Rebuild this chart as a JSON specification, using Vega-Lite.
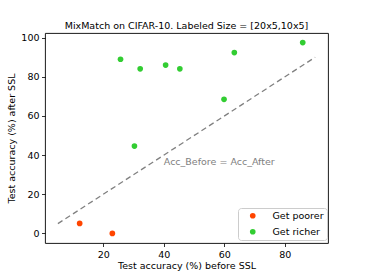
{
  "$schema": "https://vega.github.io/schema/vega-lite/v6.json",
  "autosize": "none",
  "width": 283,
  "height": 210,
  "padding": {"left": 45, "top": 33, "right": 37, "bottom": 31},
  "background": "white",
  "title": {"text": "MixMatch on CIFAR-10. Labeled Size = [20x5,10x5]", "fontSize": 9.5, "font": "DejaVu Sans", "fontWeight": "normal", "color": "black", "offset": 2},
  "config": {
    "font": "DejaVu Sans",
    "view": {"stroke": "black", "strokeWidth": 0.9},
    "axis": {"grid": false, "domain": false, "tickColor": "black", "tickSize": 3.5, "tickWidth": 0.8, "labelColor": "black", "labelFontSize": 9.5, "labelFont": "DejaVu Sans", "titleFont": "DejaVu Sans", "titleFontSize": 9.5, "titleFontWeight": "normal", "titleColor": "black", "labelPadding": 2.5}
  },
  "datasets": {
    "pts": [
      {"before": 25.7, "after": 89.0, "group": "Get richer"},
      {"before": 32.2, "after": 84.1, "group": "Get richer"},
      {"before": 40.6, "after": 86.0, "group": "Get richer"},
      {"before": 45.3, "after": 84.1, "group": "Get richer"},
      {"before": 59.9, "after": 68.5, "group": "Get richer"},
      {"before": 63.3, "after": 92.4, "group": "Get richer"},
      {"before": 85.9, "after": 97.5, "group": "Get richer"},
      {"before": 30.3, "after": 44.6, "group": "Get richer"},
      {"before": 12.2, "after": 5.1, "group": "Get poorer"},
      {"before": 23.0, "after": 0.0, "group": "Get poorer"}
    ],
    "diag": [
      {"before": 5, "after": 5},
      {"before": 90, "after": 90}
    ],
    "note": [
      {"before": 40, "after": 36.5, "label": "Acc_Before = Acc_After"}
    ]
  },
  "layer": [
    {
      "data": {"name": "diag"},
      "mark": {"type": "line", "color": "gray", "strokeDash": [5.5, 3.5], "strokeWidth": 1.3},
      "encoding": {
        "x": {"field": "before", "type": "quantitative", "scale": {"domain": [0.75, 94.25], "nice": false, "zero": false}, "axis": {"values": [20, 40, 60, 80], "title": "Test accuracy (%) before SSL", "titlePadding": 2}},
        "y": {"field": "after", "type": "quantitative", "scale": {"domain": [-4.9, 102.4], "nice": false, "zero": false}, "axis": {"values": [0, 20, 40, 60, 80, 100], "title": "Test accuracy (%) after SSL", "titlePadding": 4}}
      }
    },
    {
      "data": {"name": "note"},
      "mark": {"type": "text", "align": "left", "baseline": "middle", "color": "gray", "fontSize": 9.5},
      "encoding": {
        "x": {"field": "before", "type": "quantitative"},
        "y": {"field": "after", "type": "quantitative"},
        "text": {"field": "label"}
      }
    },
    {
      "data": {"name": "pts"},
      "mark": {"type": "point", "filled": true, "opacity": 1, "size": 32, "shape": "circle"},
      "encoding": {
        "x": {"field": "before", "type": "quantitative"},
        "y": {"field": "after", "type": "quantitative"},
        "color": {"field": "group", "type": "nominal", "scale": {"domain": ["Get poorer", "Get richer"], "range": ["#ff4500", "#32cd32"]},
          "legend": {"title": null, "orient": "none", "legendX": 193, "legendY": 175, "padding": 3, "strokeColor": "#cccccc", "fillColor": "white", "cornerRadius": 3, "symbolType": "circle", "symbolSize": 32, "symbolOffset": 7, "labelOffset": 15, "labelFontSize": 9.5, "rowPadding": 5, "labelColor": "black"}}
      }
    }
  ]
}
